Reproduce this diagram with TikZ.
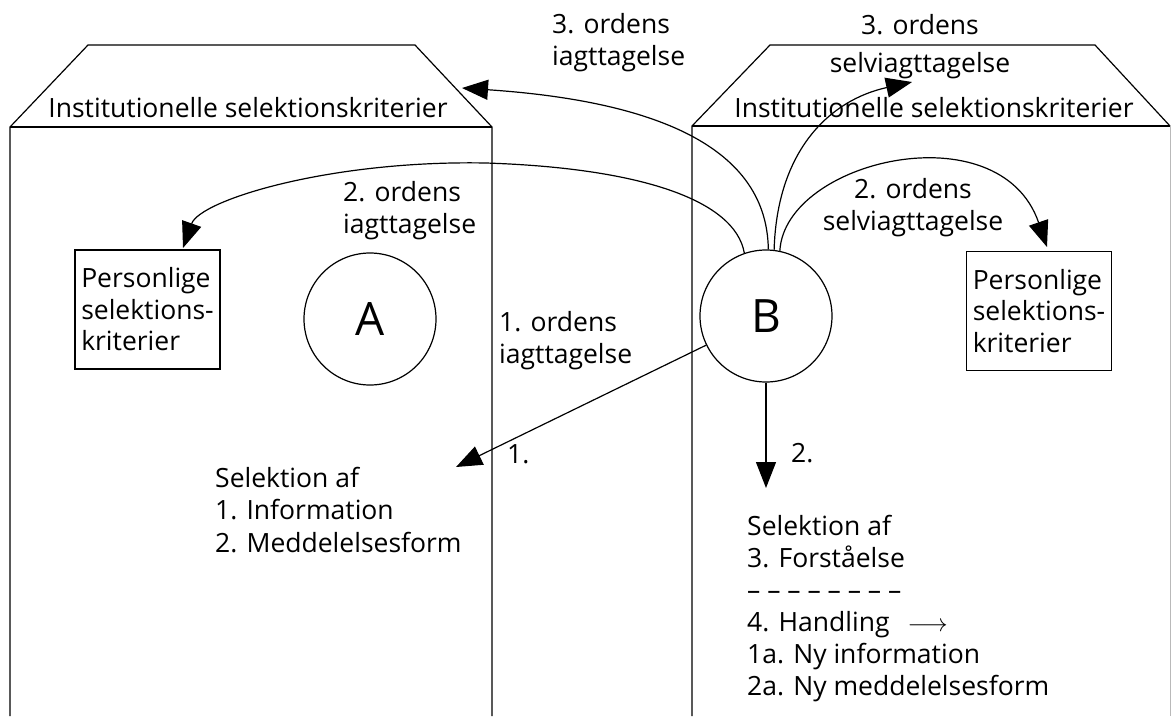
\documentclass[tikz,border=0pt]{standalone}
\usepackage{fontspec}
\setmainfont{Open Sans}
\usetikzlibrary{arrows.meta}
\begin{document}
\begin{tikzpicture}[x=1pt,y=-1pt,
  every node/.style={font=\fontsize{26.5}{31.5}\selectfont},
  boxline/.style={line width=1.2pt},
  conn/.style={line width=1.2pt},
  arr/.style={-{Triangle[length=26pt,width=20pt]}},
  lbl/.style={inner sep=0pt},
  person/.style={draw, line width=1.2pt, minimum width=145pt, minimum height=119pt, align=left, inner sep=4pt},
  actor/.style={draw, circle, line width=1.2pt, minimum size=132pt, inner sep=0pt, font=\fontsize{46}{46}\selectfont}]
\useasboundingbox (0,0) rectangle (1171,716);

% institutional boxes
\draw[boxline] (10,716) -- (10,127) -- (88,45) -- (415,45) -- (492,127) -- (492,716);
\draw[boxline] (10,127) -- (492,127);
\draw[boxline] (692,716) -- (692,126) -- (770,45) -- (1095,45) -- (1170,126);
\draw[boxline] (692,126) -- (1170,126);
\draw[line width=1pt, gray!55] (1170,126) -- (1170,716);

\node[lbl, anchor=base] (instL) at (248,117) {Institutionelle selektionskriterier};
\node[lbl, anchor=base] (instR) at (934,117) {Institutionelle selektionskriterier};

% actors
\node[actor] (A) at (370,319) {A};
\node[actor] (B) at (766,316) {B};

% personal criteria
\node[person] (PL) at (147.5,309.5) {Personlige\\selektions-\\kriterier};
\node[person] (PR) at (1039,311) {Personlige\\selektions-\\kriterier};

% labels (base anchor = baseline of the last line)
\node[lbl, anchor=base west, align=left] (L3i) at (552,65) {3. ordens\\iagttagelse};
\node[lbl, anchor=base, align=center] (L3s) at (920,72) {3. ordens\\[6pt]selviagttagelse};
\node[lbl, anchor=base west, align=left] (L2i) at (343,233) {2. ordens\\iagttagelse};
\node[lbl, anchor=base, align=center] (L2s) at (913,230) {2. ordens\\selviagttagelse};
\node[lbl, anchor=base west, align=left] (L1i) at (499,363) {1. ordens\\iagttagelse};
\node[lbl, anchor=base west] (n1) at (507,463) {1.};
\node[lbl, anchor=base west] (n2) at (791,462) {2.};

\node[lbl, anchor=base west, align=left, font=\fontsize{26.5}{32.5}\selectfont] (selL) at (215,552)
  {Selektion af\\1. Information\\2. Meddelelsesform};
\node[lbl, anchor=base west, align=left, font=\fontsize{26.5}{32}\selectfont] (selR) at (747,695)
  {Selektion af\\3. Forståelse\\– – – – – – – –\\4. Handling\hspace{18pt}$\longrightarrow$\\1a. Ny information\\2a. Ny meddelelsesform};

% arrow end points
\coordinate (c3i) at (462,88);
\coordinate (c2i) at (183,248);
\coordinate (c3s) at (912,82);
\coordinate (c2s) at (1047,247);
\coordinate (c1) at (456,467);
\coordinate (c2) at (766,488);

% connectors
\draw[conn,arr] (B.88) .. controls (767,140) and (640,100) .. (c3i);
\draw[conn,arr] (B.109) .. controls (735,200) and (640,168) .. (486,163)
   .. controls (330,160) and (200,200) .. (c2i);
\draw[conn,arr] (B.83) .. controls (777,150) and (830,100) .. (c3s);
\draw[conn,arr] (B.78) .. controls (785,160) and (1000,110) .. (c2s);
\draw[conn,arr] (B) -- (c1);
\draw[conn,arr] (B.south) -- (c2);
\end{tikzpicture}
\end{document}
